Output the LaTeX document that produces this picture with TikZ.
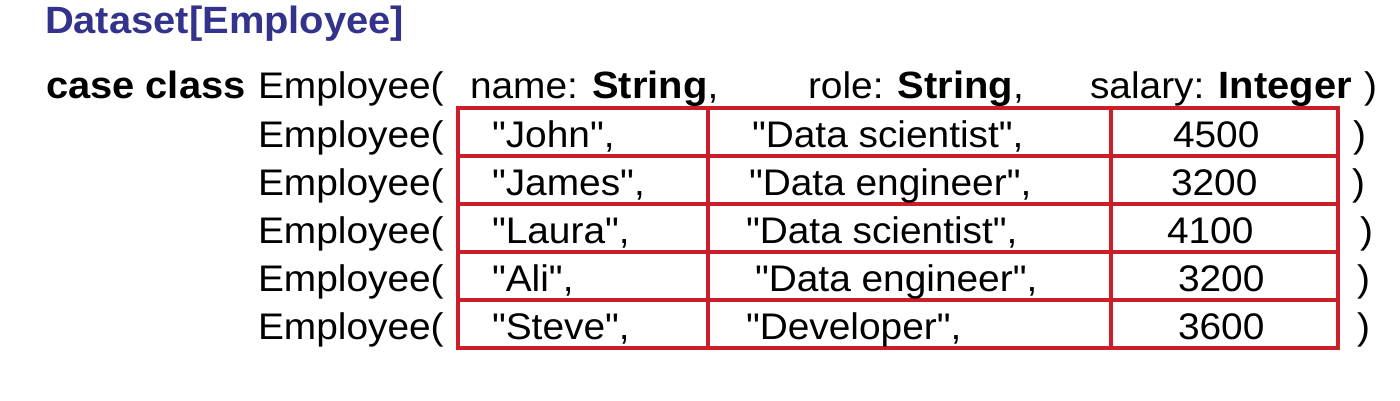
\documentclass[tikz,border=0pt]{standalone}
\usepackage{fontspec}
\setmainfont{Liberation Sans}[FakeStretch=1.05,Ligatures=TeXOff]
\definecolor{titleblue}{RGB}{51,51,140}
\definecolor{gridred}{RGB}{204,30,40}
\newcommand\dq{\char34\relax}
\begin{document}
\begin{tikzpicture}[x=1pt,y=-1pt,
  txt/.style={anchor=base west,inner sep=0pt,outer sep=0pt,font=\fontsize{37}{44}\selectfont},
  ttl/.style={txt,text=titleblue,font=\fontsize{38}{44}\selectfont\bfseries},
  gridline/.style={draw=gridred,line width=3.5pt}]
\useasboundingbox (0,0) rectangle (1400,401);
\node[ttl] (title) at (45,34) {Dataset[Employee]};
% header row
\node[txt,font=\fontsize{38}{44}\selectfont\bfseries] (cc) at (46,99) {case class};
\node[txt] (e0) at (258,99) {Employee(};
\node[txt] (h1) at (470,99) {name: {\fontsize{38}{44}\selectfont\bfseries String},};
\node[txt] (h2) at (808,99) {role: {\fontsize{38}{44}\selectfont\bfseries String},};
\node[txt] (h3) at (1090,99) {salary: {\fontsize{38}{44}\selectfont\bfseries Integer}};
\node[txt] (h4) at (1364,99) {)};
% grid
\draw[gridline] (458,108) rectangle (1338,348);
\foreach \yy in {156,204,252,300} \draw[gridline] (458,\yy) -- (1338,\yy);
\foreach \xx in {708,1111} \draw[gridline] (\xx,108) -- (\xx,348);
% data rows
\foreach \i/\nm/\nx/\rl/\rx/\sal/\sx/\px in {
  1/{\dq John\dq,}/492/{\dq Data scientist\dq,}/752/4500/1173/1353,
  2/{\dq James\dq,}/492/{\dq Data engineer\dq,}/749/3200/1171/1352,
  3/{\dq Laura\dq,}/492/{\dq Data scientist\dq,}/746/4100/1167/1360,
  4/{\dq Ali\dq,}/492/{\dq Data engineer\dq,}/755/3200/1178/1357,
  5/{\dq Steve\dq,}/492/{\dq Developer\dq,}/746/3600/1178/1357}{
  \pgfmathsetmacro{\yb}{99+48*\i}
  \node[txt] (emp\i) at (258,\yb) {Employee(};
  \node[txt] (name\i) at (\nx,\yb) {\nm};
  \node[txt] (role\i) at (\rx,\yb) {\rl};
  \node[txt] (sal\i) at (\sx,\yb) {\sal};
  \node[txt] (par\i) at (\px,\yb) {)};
}
\end{tikzpicture}
\end{document}
